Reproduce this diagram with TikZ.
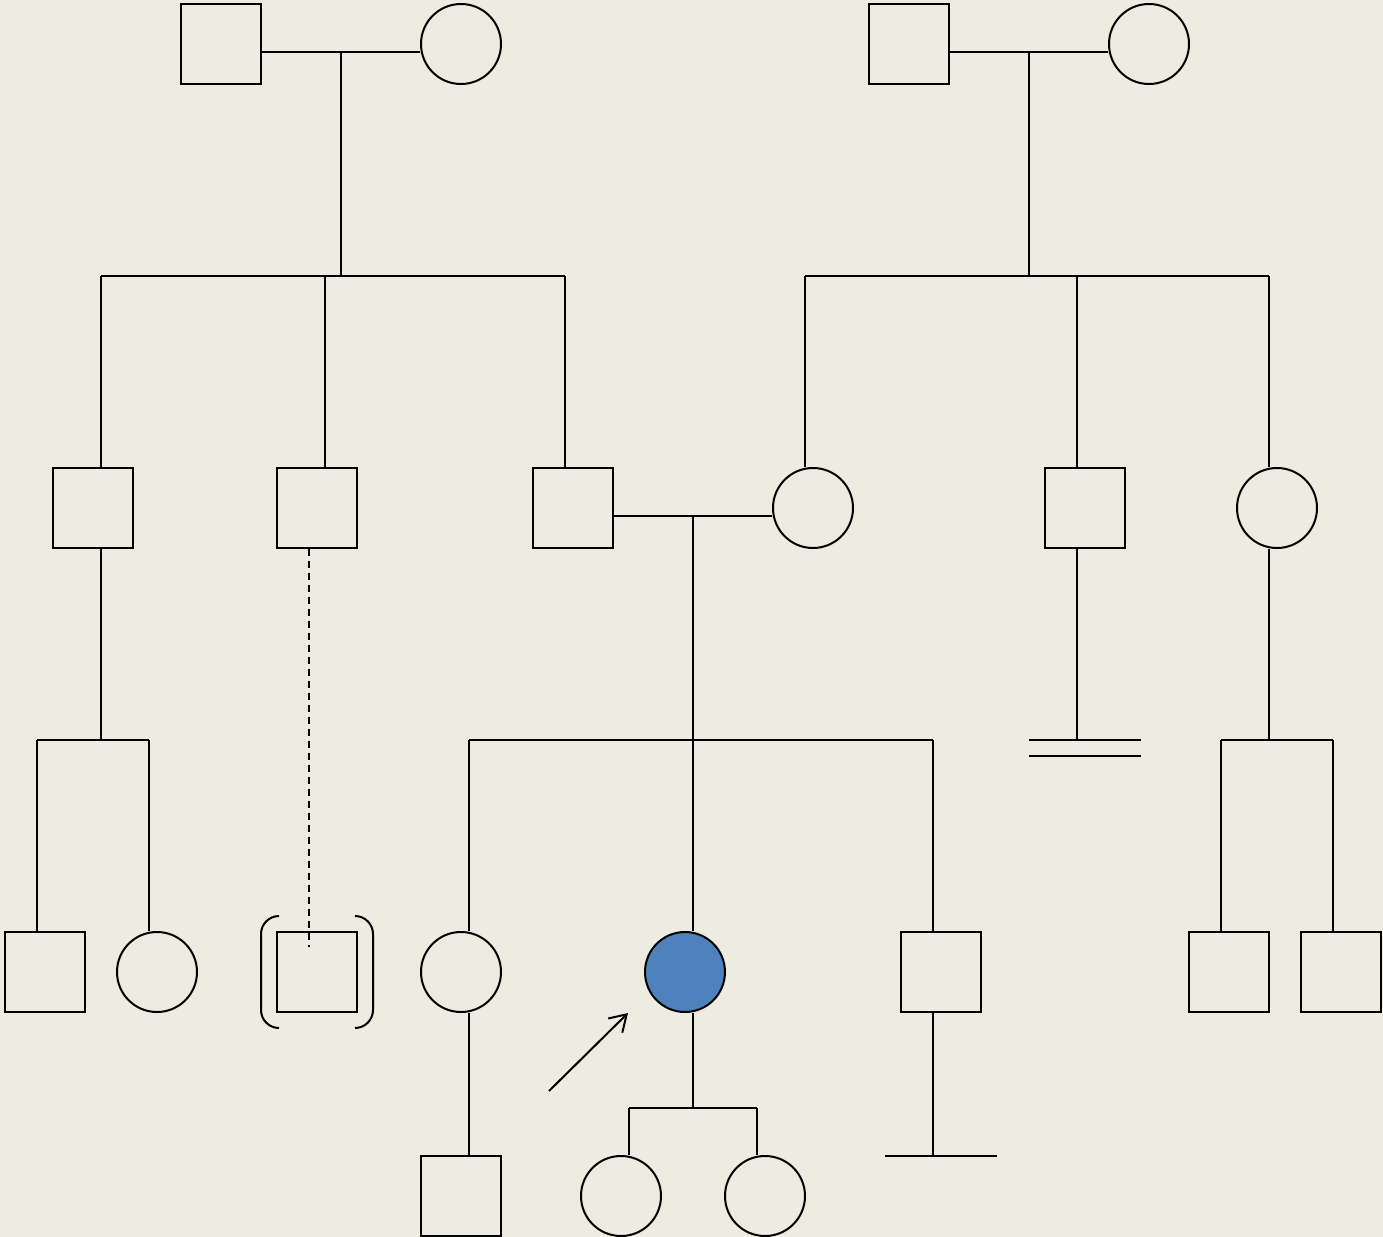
\documentclass[tikz,border=0pt]{standalone}
\usetikzlibrary{arrows.meta}
\definecolor{paper}{HTML}{EEECE1}
\definecolor{affblue}{HTML}{4F81BD}
\begin{document}
\begin{tikzpicture}[x=0.5pt, y=-0.5pt, line width=1pt,
male/.style={rectangle,draw,minimum size=40pt,inner sep=0pt},
female/.style={circle,draw,minimum size=40pt,inner sep=0pt},
affected/.style={fill=affblue},
bracket/.style={rounded corners=9pt},
    ]
  \fill[paper] (0,0) rectangle (1383,1237);
  \useasboundingbox (0,0) rectangle (1383,1237);

  % generation I
  \node[male] (gf1) at (221,44) {};
  \node[female] (gm1) at (461,44) {};
  \node[male] (gf2) at (909,44) {};
  \node[female] (gm2) at (1149,44) {};
  \coordinate (mar1) at (341,52);
  \coordinate (mar2) at (1029,52);

  % generation II
  \node[male] (u1) at (93,508) {};
  \node[male] (u2) at (317,508) {};
  \node[male] (father) at (573,508) {};
  \node[female] (mother) at (813,508) {};
  \node[male] (u3) at (1085,508) {};
  \node[female] (a1) at (1277,508) {};
  \coordinate (mar3) at (693,516);

  % generation III
  \node[male] (c1) at (45,972) {};
  \node[female] (c2) at (157,972) {};
  \node[male] (c3) at (317,972) {};
  \node[female] (sis) at (461,972) {};
  \node[female,affected] (proband) at (685,972) {};
  \node[male] (bro) at (941,972) {};
  \node[male] (c4) at (1229,972) {};
  \node[male] (c5) at (1341,972) {};

  % generation IV
  \node[male] (n1) at (461,1196) {};
  \node[female] (d1) at (621,1196) {};
  \node[female] (d2) at (765,1196) {};

  % couples
  \draw (gf1.east |- mar1) -- (gm1.west |- mar1);
  \draw (gf2.east |- mar2) -- (gm2.west |- mar2);
  \draw (father.east |- mar3) -- (mother.west |- mar3);

  % sibship lines
  \draw (mar1) -- (341,276);
  \draw (101,276) -- (565,276);
  \foreach \x/\k in {101/u1, 325/u2, 565/father} {
    \coordinate (t) at (\x,276);
    \draw (t) -- (t |- \k.north);
  }
  \draw (mar2) -- (1029,276);
  \draw (805,276) -- (1269,276);
  \foreach \x/\k in {805/mother, 1077/u3, 1269/a1} {
    \coordinate (t) at (\x,276);
    \draw (t) -- (t |- \k.north);
  }

  \coordinate (s1) at (101,740);
  \draw (s1 |- u1.south) -- (s1);
  \draw (37,740) -- (149,740);
  \foreach \x/\k in {37/c1, 149/c2} {
    \coordinate (t) at (\x,740);
    \draw (t) -- (t |- \k.north);
  }

  \coordinate (dz) at (309,947);
  \draw[dashed, dash pattern=on 3.5pt off 2.5pt] (dz |- u2.south) -- (dz);
  \draw[bracket] (279,916) -| (261,1028) -- (279,1028);
  \draw[bracket] (355,916) -| (373,1028) -- (355,1028);

  \draw (mar3) -- (693,740);
  \draw (469,740) -- (933,740);
  \foreach \x/\k in {469/sis, 693/proband, 933/bro} {
    \coordinate (t) at (\x,740);
    \draw (t) -- (t |- \k.north);
  }

  \coordinate (s3) at (1077,740);
  \draw (s3 |- u3.south) -- (s3);
  \draw (1029,740) -- (1141,740);
  \draw (1029,756) -- (1141,756);

  \coordinate (s4) at (1269,740);
  \draw (s4 |- a1.south) -- (s4);
  \draw (1221,740) -- (1333,740);
  \foreach \x/\k in {1221/c4, 1333/c5} {
    \coordinate (t) at (\x,740);
    \draw (t) -- (t |- \k.north);
  }

  \coordinate (s5) at (469,1156);
  \draw (s5 |- sis.south) -- (n1.north -| s5);

  \coordinate (s6) at (693,1108);
  \draw (s6 |- proband.south) -- (s6);
  \draw (629,1108) -- (757,1108);
  \foreach \x/\k in {629/d1, 757/d2} {
    \coordinate (t) at (\x,1108);
    \draw (t) -- (t |- \k.north);
  }

  \coordinate (s7) at (933,1156);
  \draw (s7 |- bro.south) -- (s7);
  \draw (885,1156) -- (997,1156);

  % proband arrow
  \coordinate (ar) at (549,1091);
  \draw[-{Straight Barb[length=8pt,width=10pt]}] (ar) -- (628,1013);
\end{tikzpicture}
\end{document}
